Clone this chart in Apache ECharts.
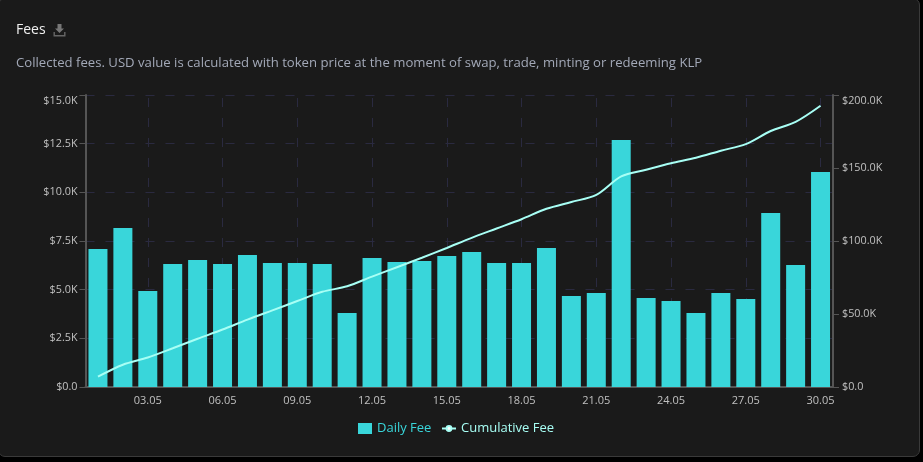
<!DOCTYPE html>
<html><head><meta charset="utf-8">
<script src="https://cdn.jsdelivr.net/npm/echarts@6/dist/echarts.min.js"></script>
<style>html,body{margin:0;padding:0;background:#000;width:923px;height:462px;overflow:hidden}
#card{position:absolute;left:-2px;top:-2px;width:922px;height:459px;background:#1a1a1a;border-radius:7px;box-sizing:border-box;border:1px solid #3a3a3a}
#c{position:absolute;left:0;top:0;width:923px;height:462px}
#ic{position:absolute;left:53px;top:24px;width:13px;height:13px}</style></head>
<body><div id="card"></div><div id="c"></div>
<svg id="ic" viewBox="0 0 13 13"><path d="M4.5 0h4v4.5h2.5L6.5 9 2 4.5h2.5z" fill="#777"/><path d="M0.5 8v4.5h12V8h-1.4v3.1H1.9V8z" fill="#666"/></svg>
<script>
const categories=['01.05','02.05','03.05','04.05','05.05','06.05','07.05','08.05','09.05','10.05','11.05','12.05','13.05','14.05','15.05','16.05','17.05','18.05','19.05','20.05','21.05','22.05','23.05','24.05','25.05','26.05','27.05','28.05','29.05','30.05'];
const dailyFee=[7090,8170,4930,6320,6520,6320,6780,6370,6370,6320,3800,6630,6420,6470,6730,6930,6370,6370,7140,4670,4830,12690,4570,4420,3800,4830,4520,8940,6270,11040];
const cumulativeFee=[7090,15260,20190,26510,33030,39350,46130,52500,58870,65190,68990,75620,82040,88510,95240,102170,108540,114910,122050,126720,131550,144240,148810,153230,157030,161860,166380,175320,181590,192630];
const gridDates=['03.05','06.05','09.05','12.05','15.05','18.05','21.05','24.05','27.05','30.05'];
const fmt=v=>v===0?'$0.0':'$'+(v/1000).toFixed(1)+'K';
const chart=echarts.init(document.getElementById('c'),null,{renderer:'canvas'});
const font='"Open Sans"';
const gridLine={color:'#2a2a40',type:[9,11],width:1};
chart.setOption({
 animation:false,backgroundColor:'transparent',textStyle:{fontFamily:font},
 title:{text:'Fees',left:16,top:23,padding:0,textStyle:{color:'#f0f0f0',fontSize:14,fontWeight:'normal',fontFamily:font},
  subtext:'Collected fees. USD value is calculated with token price at the moment of swap, trade, minting or redeeming KLP',
  subtextStyle:{color:'#a3a9b8',fontSize:13.15,fontFamily:font},itemGap:20},
 legend:[
  {left:358,top:422,padding:0,itemWidth:14,itemHeight:11,itemGap:0,selectedMode:false,
   data:[{name:'Daily Fee',icon:'rect',textStyle:{color:'#39d6da',fontSize:13,fontFamily:font}}]},
  {left:441,top:422,padding:0,itemWidth:14,itemHeight:6,selectedMode:false,
   data:[{name:'Cumulative Fee',textStyle:{color:'#a8fff5',fontSize:13,fontFamily:font}}]}],
 grid:{left:85.5,right:90,top:95,bottom:75},
 xAxis:{type:'category',data:categories,
  axisLine:{lineStyle:{color:'#555',width:2}},
  axisTick:{interval:(i)=>i%3===2,lineStyle:{color:'#555'},alignWithLabel:true,length:5},
  axisLabel:{interval:(i)=>i%3===2,color:'#c0c0c0',fontSize:11,margin:8},
  splitLine:{show:false}},
 yAxis:[
  {type:'value',min:0,max:15000,interval:2500,axisLine:{show:true,lineStyle:{color:'#555',width:2}},axisTick:{show:true,lineStyle:{color:'#555'},length:6},
   axisLabel:{color:'#c0c0c0',fontSize:10.8,margin:8,formatter:fmt,verticalAlignMaxLabel:'top'},splitLine:{show:true,lineStyle:gridLine}},
  {type:'value',min:0,max:200000,interval:50000,position:'right',axisLine:{show:true,lineStyle:{color:'#555',width:2}},axisTick:{show:true,lineStyle:{color:'#555'},length:6},
   axisLabel:{color:'#c0c0c0',fontSize:10.8,margin:9,formatter:fmt,verticalAlignMaxLabel:'top'},splitLine:{show:false}}],
 series:[
  {name:'Grid',type:'line',data:[],z:0,markLine:{silent:true,z:1,symbol:'none',label:{show:false},lineStyle:gridLine,data:gridDates.map(d=>({xAxis:d}))}},
  {name:'Daily Fee',type:'bar',data:dailyFee,barWidth:19,z:2,itemStyle:{color:'#39d6da'}},
  {name:'Cumulative Fee',type:'line',yAxisIndex:1,data:cumulativeFee,z:3,smooth:0.3,showSymbol:false,symbol:'emptyCircle',symbolSize:5,lineStyle:{color:'#a8fff5',width:2},itemStyle:{color:'#a8fff5'}}
 ]
});
</script></body></html>
